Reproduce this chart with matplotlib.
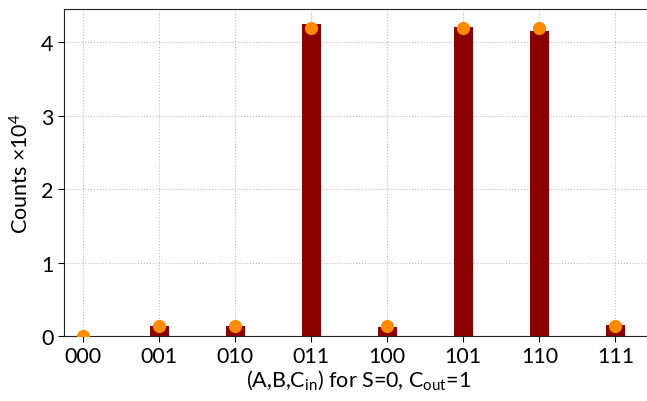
import numpy as np
import matplotlib
matplotlib.use("Agg")
import matplotlib.pyplot as plt

# data (counts in units of 1e4)
states = ["000", "001", "010", "011", "100", "101", "110", "111"]
measured = [0.0, 0.13, 0.13, 4.24, 0.12, 4.21, 4.15, 0.15]
expected = [0.0, 0.13, 0.13, 4.19, 0.13, 4.19, 4.19, 0.13]

plt.rcParams['font.family'] = ['Lato', 'DejaVu Sans']
plt.rcParams['mathtext.fontset'] = 'custom'
plt.rcParams['mathtext.rm'] = 'Lato'
plt.rcParams['mathtext.it'] = 'Lato:italic'

fig = plt.figure(figsize=(6.47, 4.02), dpi=100)
ax = fig.add_axes([64 / 647, 1 - 337 / 402, 1 - 64 / 647 + 0.01, (337 - 10) / 402])

x = np.arange(len(states))
ax.bar(x, measured, width=0.25, color="#8b0000", zorder=2)
ax.plot(x, expected, "o", color="#ff8c00", markersize=8.5, zorder=3)

ax.set_xticks(x)
ax.set_xticklabels(states)
ax.set_xlim(-0.25, 7.5)
ax.set_ylim(0, 4.45)
ax.set_yticks([0, 1, 2, 3, 4])

ax.grid(True, linestyle=":", color="#bbbbbb", linewidth=0.8, zorder=0)
ax.set_axisbelow(True)
ax.spines['right'].set_visible(False)
for s in ['left', 'bottom', 'top']:
    ax.spines[s].set_color("#222222")

ax.tick_params(labelsize=15.5, length=4)
ax.set_xlabel("(A,B,C$_{\\mathrm{in}}$) for S=0, C$_{\\mathrm{out}}$=1", fontsize=15.5, labelpad=1)
ax.set_ylabel("Counts ×10$^{4}$", fontsize=15.5, labelpad=6)

fig.savefig("out.png", dpi=100)
